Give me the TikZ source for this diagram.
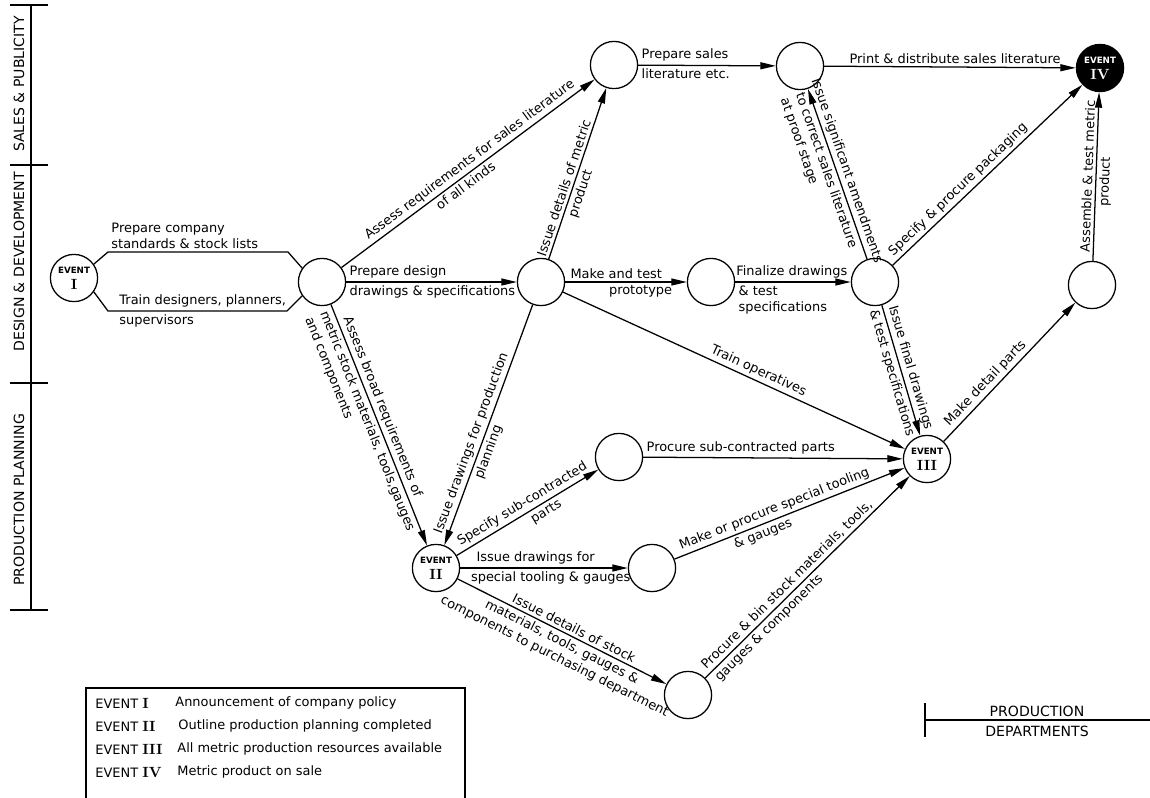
\documentclass[tikz,border=0pt]{standalone}
\usepackage{fontspec}
\newfontfamily\netfont{DejaVu Sans}
\usetikzlibrary{arrows.meta}
\newcommand{\evtop}{{\fontsize{6.2}{7}\selectfont\bfseries EVENT}}
\newcommand{\evnum}[1]{{\fontsize{10.5}{11}\selectfont\rmfamily\bfseries #1}}

\begin{document}
\begin{tikzpicture}[x=0.025cm, y=-0.025cm, line width=0.9pt,
    every node/.style={font=\netfont\fontsize{9.2}{11.5}\selectfont, inner sep=2pt},
    ev/.style={circle, draw, minimum size=1.18cm, inner sep=0pt, align=center},
    act/.style={-{Triangle[length=11pt,width=5pt]}},
    band/.style={font=\netfont\fontsize{10}{12}\selectfont}]
    \useasboundingbox (0,0) rectangle (1150,797);

    % sections on the left
    \draw (31,5) -- (31,610);
    \draw (10,5) -- (48,5);
    \draw (10,165) -- (48,165);
    \draw (10,383) -- (48,383);
    \draw (10,610) -- (48,610);
    \node[band, rotate=90] (sales) at (19,84) {SALES \& PUBLICITY};
    \node[band, rotate=90] (design) at (19,262) {DESIGN \& DEVELOPMENT};
    \node[band, rotate=90] (plan) at (19,500) {PRODUCTION PLANNING};

    % events
    \node[ev] (E1) at (74,278) {\evtop\\\evnum{I}};
    \node[ev] (A) at (322,282) {};
    \node[ev] (B) at (541,282) {};
    \node[ev] (C) at (711,282) {};
    \node[ev] (D) at (875,282) {};
    \node[ev] (S1) at (614,65) {};
    \node[ev] (S2) at (800,66) {};
    \node[ev, fill=black, text=white] (E4) at (1100,68) {\evtop\\\evnum{IV}};
    \node[ev] (F) at (1092,285) {};
    \node[ev] (E2) at (436,568) {\evtop\\\evnum{II}};
    \node[ev] (G) at (619,457) {};
    \node[ev] (H) at (652,568) {};
    \node[ev] (E3) at (927,459) {\evtop\\\evnum{III}};
    \node[ev] (P) at (688,695) {};

    % activities
    \draw (E1.35) -- (108,252) -- node[pos=0, above right, align=left] {Prepare company\\standards \& stock lists} (288,252) -- (A.145);
    \draw (E1.-35) -- (108,311) -- node[pos=0, above right, xshift=0.2cm] {Train designers, planners,} node[pos=0, below right, xshift=0.2cm] {supervisors} (287,311) -- (A.-145);
    \draw[act] (A) -- node[pos=0.53, sloped, above] {Assess requirements for sales literature} node[pos=0.47, sloped, below] {of all kinds} (S1);
    \draw[act] (A) -- node[pos=0, above right] {Prepare design} node[pos=0, below right] {drawings \& specifications} (B);
    \draw[act] (A) -- node[pos=0.44, sloped, above] {Assess broad requirements of} node[pos=0.47, sloped, below, align=left] {metric stock materials, tools,gauges\\and components} (E2);
    \draw[act] (B) -- node[pos=0.40, sloped, above] {Issue details of metric} node[pos=0.40, sloped, below] {product} (S1);
    \draw[act] (B) -- node[pos=0.42, above] {Make and test} node[pos=0.62, below] {prototype} (C);
    \draw[act] (B) -- node[pos=0.59, sloped, above] {Issue drawings for production} node[pos=0.6, sloped, below] {planning} (E2);
    \draw[act] (B) -- node[pos=0.56, sloped, above] {Train operatives} (E3);
    \draw[act] (C) -- node[pos=0.49, above] {Finalize drawings} node[pos=0, below right, align=left] {\& test\\specifications} (D);
    \draw[act] (S1) -- node[pos=0, above right] {Prepare sales} node[pos=0, below right] {literature etc.} (S2);
    \draw[act] (S2) -- node[pos=0.52, above] {Print \& distribute sales literature} (E4);
    \draw[act] (D) -- node[pos=0.5, sloped, above] {Issue significant amendments} node[pos=0.54, sloped, below, align=left] {to correct sales literature\\at proof stage} (S2);
    \draw[act] (D) -- node[pos=0.38, sloped, above] {Specify \& procure packaging} (E4);
    \draw[act] (D) -- node[pos=0.5, sloped, above] {Issue final drawings} node[pos=0.5, sloped, below] {\& test specifications} (E3);
    \draw[act] (E3) -- node[pos=0.37, sloped, above] {Make detail parts} (F);
    \draw[act] (F) -- node[pos=0.5, sloped, above] {Assemble \& test metric} node[pos=0.47, sloped, below] {product} (E4);
    \draw[act] (E2) -- node[pos=0.5, sloped, above] {Specify sub-contracted} node[pos=0.6, sloped, below] {parts} (G);
    \draw[act] (G) -- node[pos=0, above right] {Procure sub-contracted parts} (E3);
    \draw[act] (E2) -- node[pos=0.45, above] {Issue drawings for} node[pos=0.54, below] {special tooling \& gauges} (H);
    \draw[act] (H) -- node[pos=0.45, sloped, above] {Make or procure special tooling} node[pos=0.37, sloped, below] {\& gauges} (E3);
    \draw[act] (E2) -- node[pos=0.54, sloped, above] {Issue details of stock} node[pos=0.52, sloped, below, align=center] {materials, tools, gauges \&\\components to purchasing department} (P);
    \draw[act] (P) -- node[pos=0.43, sloped, above] {Procure \& bin stock materials, tools,} node[pos=0.28, sloped, below] {gauges \& components} (E3);

    % key
    \draw (86,800) |- (465,688) -- (465,800);
    \node[anchor=west] (k1) at (92,703) {EVENT \evnum{I}};
    \node[anchor=west] (k2) at (92,726) {EVENT \evnum{II}};
    \node[anchor=west] (k3) at (92,749) {EVENT \evnum{III}};
    \node[anchor=west] (k4) at (92,772) {EVENT \evnum{IV}};
    \node[anchor=west] (d1) at (172,703) {Announcement of company policy};
    \node[anchor=west] (d2) at (175,726) {Outline production planning completed};
    \node[anchor=west] (d3) at (174,749) {All metric production resources available};
    \node[anchor=west] (d4) at (174,772) {Metric product on sale};

    % production departments
    \draw (925,703) -- (925,737);
    \draw (925,720) -- (1150,720);
    \node[band] (prod) at (1037,711) {PRODUCTION};
    \node[band] (dept) at (1037,731) {DEPARTMENTS};
\end{tikzpicture}
\end{document}
